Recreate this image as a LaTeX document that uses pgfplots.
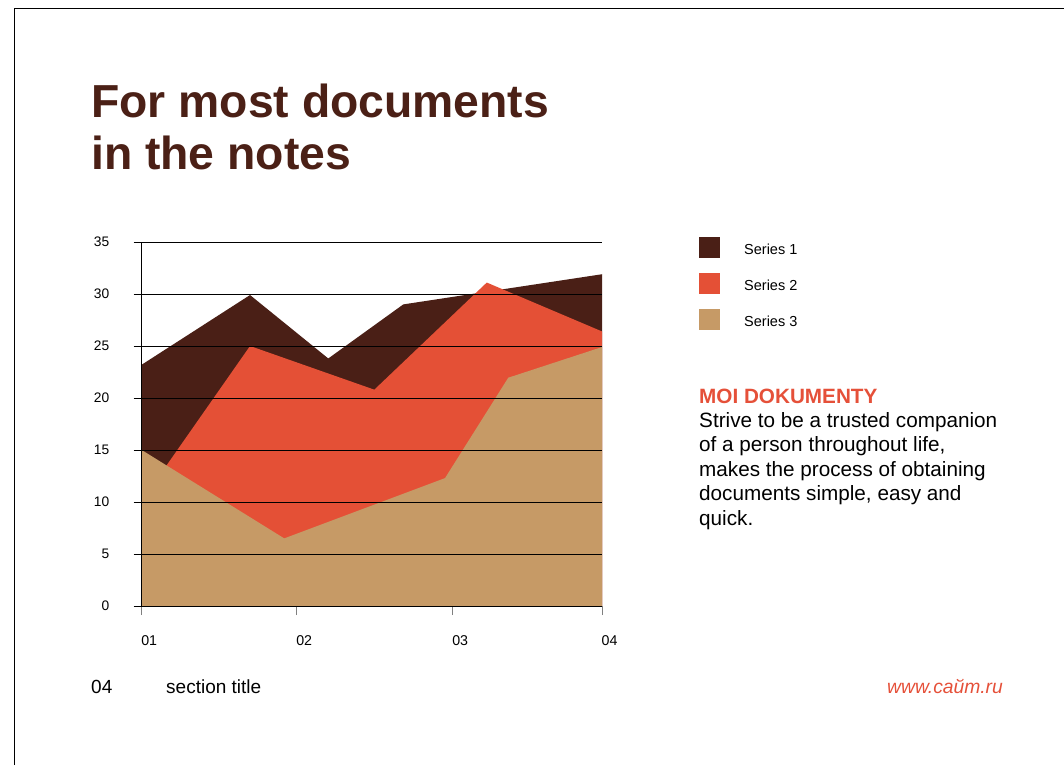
\documentclass[border=0pt]{standalone}
\usepackage{fontspec}
\setmainfont{Liberation Sans}
\usepackage{pgfplots}
\pgfplotsset{compat=1.18}
\definecolor{sOne}{HTML}{4A1F16}
\definecolor{sTwo}{HTML}{E45036}
\definecolor{sThree}{HTML}{C69A66}
\definecolor{titlec}{HTML}{4B2016}
\definecolor{accent}{HTML}{E55039}
\begin{document}
\begin{tikzpicture}[x=1pt,y=1pt]
\path[use as bounding box] (0,0) rectangle (1064,765);
\draw[black, line width=0.8pt] (14,0) -- (14,757) -- (1064,757);
\node[anchor=base west, inner sep=0, text=titlec, font=\fontsize{46.3}{52}\selectfont\bfseries] at (91,647) {For most documents};
\node[anchor=base west, inner sep=0, text=titlec, font=\fontsize{46.3}{52}\selectfont\bfseries] at (91,595) {in the notes};
\begin{axis}[
  name=main,
  at={(141.7pt,159pt)}, anchor=south west,
  width=460.3pt, height=364pt, scale only axis,
  xmin=0, xmax=3, ymin=0, ymax=35,
  axis lines=left, axis line style={-, black, line width=0.8pt},
  axis on top,
  ytick={0,5,...,35},
  xtick={0,1.01,2.027,3}, xticklabels={01,02,03,04},
  ymajorgrids, major grid style={black, line width=0.8pt},
  tick align=outside,
  ytick style={black, line width=0.8pt, /pgfplots/major tick length=8pt},
  xtick style={gray, line width=0.8pt, /pgfplots/major tick length=9pt},
  yticklabel style={font=\fontsize{13.8}{16}\selectfont, anchor=east, inner sep=0pt, xshift=-28pt},
  xticklabel style={font=\fontsize{14.2}{16}\selectfont, anchor=center, inner sep=0pt, xshift=7.5pt, yshift=-30pt},
  /pgf/number format/assume math mode=true,
  legend image code/.code={\fill[#1,draw=none] (0pt,-8.2pt) rectangle (21pt,12.8pt);},
  legend cell align=left,
  legend style={at={(1.2107,1.0137)}, anchor=north west, draw=none, fill=none,
    inner sep=0pt, row sep=15pt, font=\fontsize{14.5}{17}\selectfont,
    nodes={inner sep=0pt},
    /tikz/every odd column/.append style={column sep=24pt}},
]
\addplot[fill=sOne, draw=none] coordinates {(0,23.2) (0.706,29.9) (1.216,23.8) (1.705,29.0) (3,31.9)} \closedcycle;
\addlegendentry{Series 1}
\addplot[fill=sTwo, draw=none] coordinates {(0,10.1) (0.706,25.0) (1.516,20.8) (2.249,31.1) (3,26.4)} \closedcycle;
\addlegendentry{Series 2}
\addplot[fill=sThree, draw=none] coordinates {(0,15.0) (0.929,6.5) (1.977,12.3) (2.389,21.95) (3,24.9)} \closedcycle;
\addlegendentry{Series 3}
\end{axis}
\node[anchor=base west, inner sep=0, text=accent, font=\fontsize{20.7}{24}\selectfont\bfseries] at (699,361) {MOI DOKUMENTY};
\node[anchor=base west, inner sep=0, font=\fontsize{20.7}{24}\selectfont] at (699,337) {Strive to be a trusted companion};
\node[anchor=base west, inner sep=0, font=\fontsize{20.7}{24}\selectfont] at (699,313) {of a person throughout life,};
\node[anchor=base west, inner sep=0, font=\fontsize{20.7}{24}\selectfont] at (699,288) {makes the process of obtaining};
\node[anchor=base west, inner sep=0, font=\fontsize{20.7}{24}\selectfont] at (699,264) {documents simple, easy and};
\node[anchor=base west, inner sep=0, font=\fontsize{20.7}{24}\selectfont] at (699,239) {quick.};
\node[anchor=base west, inner sep=0, font=\fontsize{19}{24}\selectfont] at (91,72) {04};
\node[anchor=base west, inner sep=0, font=\fontsize{19}{24}\selectfont] at (166,72) {section title};
\node[anchor=base east, inner sep=0, text=accent, font=\fontsize{19.3}{22}\selectfont\itshape] at (1003,72) {www.сайт.ru};
\end{tikzpicture}
\end{document}
